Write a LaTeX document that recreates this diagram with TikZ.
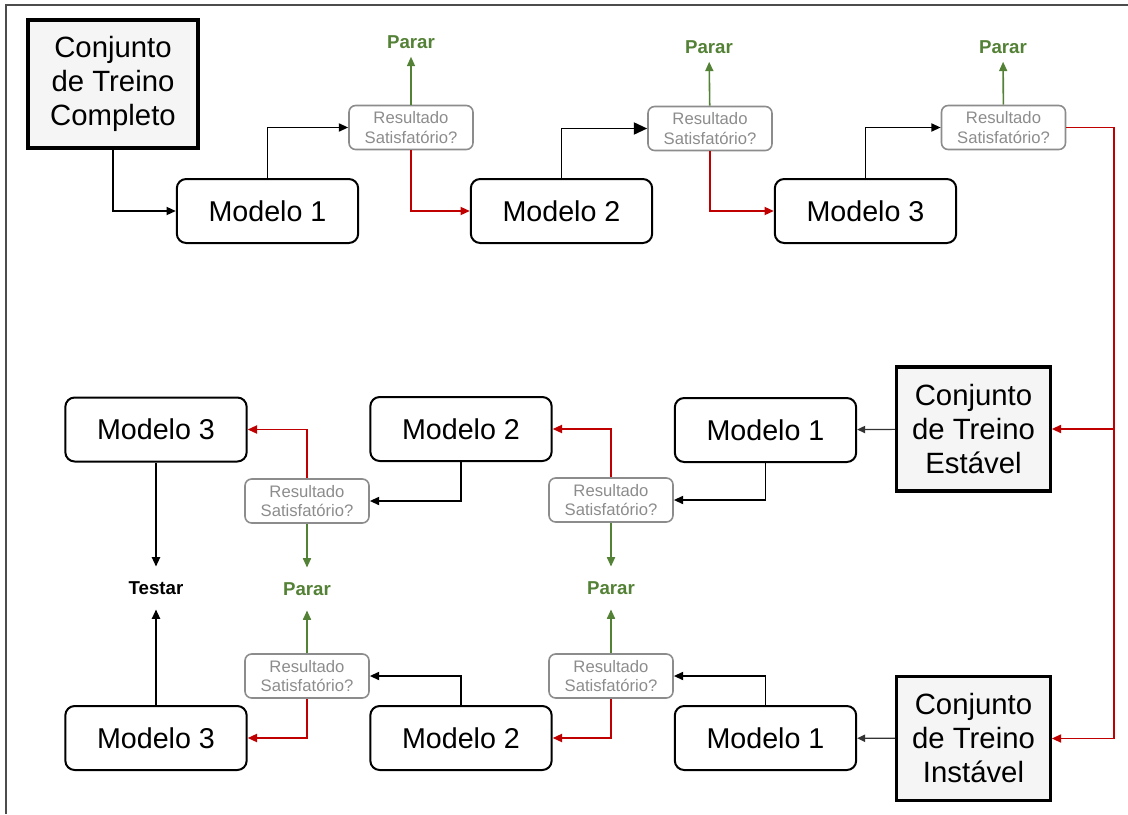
\documentclass[tikz,border=0pt]{standalone}
\usepackage{fontspec}
\setmainfont{Liberation Sans}
\usetikzlibrary{arrows.meta}
\definecolor{stopgreen}{HTML}{538135}
\definecolor{loopred}{HTML}{C00000}
\definecolor{askgray}{HTML}{8C8C8C}

\begin{document}
\begin{tikzpicture}[x=0.75pt,y=-0.75pt,
  setbox/.style={draw,line width=2.4pt,fill=black!4,align=center,inner sep=0pt,font=\fontsize{22}{25.5}\selectfont},
  modelbox/.style={draw,line width=1.5pt,rounded corners=7pt,minimum width=136pt,minimum height=48pt,inner sep=0pt,font=\fontsize{21.5}{25}\selectfont},
  askbox/.style={draw=askgray,text=askgray,line width=1.2pt,rounded corners=5pt,minimum width=93pt,minimum height=33pt,align=center,inner sep=0pt,font=\fontsize{12.5}{14.5}\selectfont},
  stopnode/.style={text=stopgreen,font=\bfseries\fontsize{14}{16}\selectfont,inner sep=0pt},
  testnode/.style={font=\bfseries\fontsize{14}{16}\selectfont,inner sep=0pt},
  flow/.style={draw=black,line width=1.4pt,-{Triangle[length=7pt,width=6pt]}},
  thinflow/.style={draw=black!80,line width=0.9pt,-{Triangle[length=6pt,width=5.5pt]}},
  fail/.style={flow,draw=loopred},
  pass/.style={draw=stopgreen,line width=1.2pt,-{Triangle[length=7pt,width=6pt]},shorten >=11pt}]
\useasboundingbox (0,0) rectangle (1128,814);
\draw[black!70,line width=0.9pt] (6,814) -- (6,5) -- (1128,5);

\node[setbox,minimum width=127.5pt,minimum height=96pt] (completo) at (113,84) {Conjunto\\de Treino\\Completo};
\node[modelbox] (m1a) at (267.5,211) {Modelo 1};
\node[modelbox] (m2a) at (561.5,211) {Modelo 2};
\node[modelbox] (m3a) at (865.5,211) {Modelo 3};
\node[askbox] (r1a) at (411,127.5) {Resultado\\Satisfatório?};
\node[askbox] (r2a) at (710,128.5) {Resultado\\Satisfatório?};
\node[askbox] (r3a) at (1003.5,127.5) {Resultado\\Satisfatório?};
\node[stopnode] (p1a) at (411,42) {Parar};
\node[stopnode] (p2a) at (709,47) {Parar};
\node[stopnode] (p3a) at (1003,47) {Parar};

\node[setbox,minimum width=115pt,minimum height=93pt] (estavel) at (973.5,429) {Conjunto\\de Treino\\Estável};
\node[modelbox] (m1b) at (765.5,430) {Modelo 1};
\node[modelbox] (m2b) at (461,429) {Modelo 2};
\node[modelbox] (m3b) at (156,429.5) {Modelo 3};
\node[askbox] (r1b) at (611,500) {Resultado\\Satisfatório?};
\node[askbox] (r2b) at (307,501) {Resultado\\Satisfatório?};
\node[stopnode] (p1b) at (611,588) {Parar};
\node[stopnode] (p2b) at (307,589) {Parar};
\node[testnode] (testar) at (156,588) {Testar};

\node[setbox,minimum width=115pt,minimum height=93pt] (instavel) at (973.5,738.5) {Conjunto\\de Treino\\Instável};
\node[modelbox] (m1c) at (765.5,738) {Modelo 1};
\node[modelbox] (m2c) at (461,738) {Modelo 2};
\node[modelbox] (m3c) at (156,738) {Modelo 3};
\node[askbox] (r1c) at (611,676) {Resultado\\Satisfatório?};
\node[askbox] (r2c) at (307,676) {Resultado\\Satisfatório?};

\draw[flow] (completo) |- (m1a);
\draw[flow] (m1a) |- (r1a);
\draw[fail] (r1a) |- (m2a);
\draw[flow,-{Triangle[length=10pt,width=9pt]}] (m2a) |- (r2a);
\draw[fail] (r2a) |- (m3a);
\draw[flow] (m3a) |- (r3a);
\draw[pass,shorten >=6pt] (r1a) -- (p1a);
\draw[pass,shorten >=6pt] (r2a) -- (p2a);
\draw[pass,shorten >=6pt] (r3a) -- (p3a);
\coordinate (turn) at (1114,127.5);
\draw[fail] (r3a) -- (turn) |- (instavel);
\draw[fail] (turn) |- (estavel);

\draw[thinflow] (estavel) -- (m1b);
\draw[flow] (m1b) |- (r1b);
\draw[fail] (r1b) |- (m2b);
\draw[pass] (r1b) -- (p1b);
\draw[flow] (m2b) |- (r2b);
\draw[fail] (r2b) |- (m3b);
\draw[pass] (r2b) -- (p2b);
\draw[flow,shorten >=11pt] (m3b) -- (testar);

\draw[thinflow] (instavel) -- (m1c);
\draw[flow] (m1c) |- (r1c);
\draw[fail] (r1c) |- (m2c);
\draw[pass] (r1c) -- (p1b);
\draw[flow] (m2c) |- (r2c);
\draw[fail] (r2c) |- (m3c);
\draw[pass] (r2c) -- (p2b);
\draw[flow,shorten >=11pt] (m3c) -- (testar);
\end{tikzpicture}
\end{document}
